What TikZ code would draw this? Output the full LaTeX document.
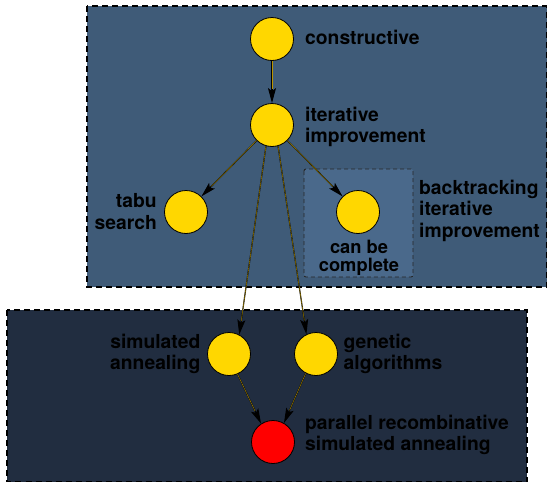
\documentclass[tikz,border=0pt]{standalone}
\usepackage{fontspec}
\setmainfont{TeX Gyre Heros}
\usetikzlibrary{arrows.meta}
\definecolor{topfill}{HTML}{3F5B78}
\definecolor{innerfill}{HTML}{4A698B}
\definecolor{botfill}{HTML}{212D40}
\definecolor{nodegold}{HTML}{FFD700}
\definecolor{nodered}{HTML}{FF0000}
\definecolor{edgegold}{HTML}{B89400}
\tikzset{
  outerbox/.style={draw=black, line width=1.3pt, dash pattern=on 6pt off 4pt},
  innerbox/.style={draw=black!85, line width=0.9pt, dash pattern=on 4pt off 3pt, rounded corners=2pt, fill=innerfill},
  state/.style={circle, draw=black, line width=0.8pt, minimum size=43pt, inner sep=0pt, fill=nodegold},
  lbl/.style={inner sep=0pt, text=black, font=\bfseries\fontsize{19.3}{21.7}\selectfont},
  edge/.style={draw=black, line width=1.15pt, -{Stealth[length=15pt,width=8pt,inset=3pt]},
    postaction={draw=edgegold, line width=0.4pt, -, shorten >=14pt}}
}
\begin{document}
\begin{tikzpicture}[x=1pt,y=-1pt]
\useasboundingbox (0,0) rectangle (547,482);
% clusters
\path[fill=topfill] (87,6) rectangle (546.5,287);
\draw[outerbox] (87,6) rectangle (546.5,287);
\path[fill=botfill] (7,310) rectangle (527,481.5);
\draw[outerbox] (7,310) rectangle (527,481.5);
\draw[innerbox] (304,169) rectangle (413,277);
% nodes
\node[state] (c1) at (272,39) {};
\node[state] (c2) at (272,125) {};
\node[state] (tabu) at (186,212) {};
\node[state] (bt) at (358,212) {};
\node[state] (sa) at (229,354) {};
\node[state] (ga) at (316,354) {};
\node[state, fill=nodered] (pr) at (273,442) {};
% labels
\node[lbl, anchor=base west] (l1) at (305,44.5) {constructive};
\node[lbl, anchor=west, align=left] (l2) at (305,127) {iterative\\improvement};
\node[lbl, anchor=east, align=right] (l3) at (157,211.4) {tabu\\search};
\node[lbl, anchor=west, align=left] (l4) at (419,210.7) {backtracking\\iterative\\improvement};
\node[lbl, anchor=center, align=center, font=\bfseries\fontsize{18.3}{18}\selectfont] (l5) at (359,257.5) {can be\\complete};
\node[lbl, anchor=east, align=right] (l6) at (200.5,354) {simulated\\annealing};
\node[lbl, anchor=west, align=left] (l7) at (343.5,354) {genetic\\algorithms};
\node[lbl, anchor=west, align=left] (l8) at (305,434.8) {parallel recombinative\\simulated annealing};
% edges
\draw[edge] (c1) -- (c2);
\draw[edge] (c2) -- (tabu);
\draw[edge] (c2) -- (bt);
\draw[edge] (c2.254) -- (sa.62);
\draw[edge] (c2.286) -- (ga.116);
\draw[edge] (sa.293) -- (pr.123);
\draw[edge] (ga.242) -- (pr.60);
\end{tikzpicture}
\end{document}
